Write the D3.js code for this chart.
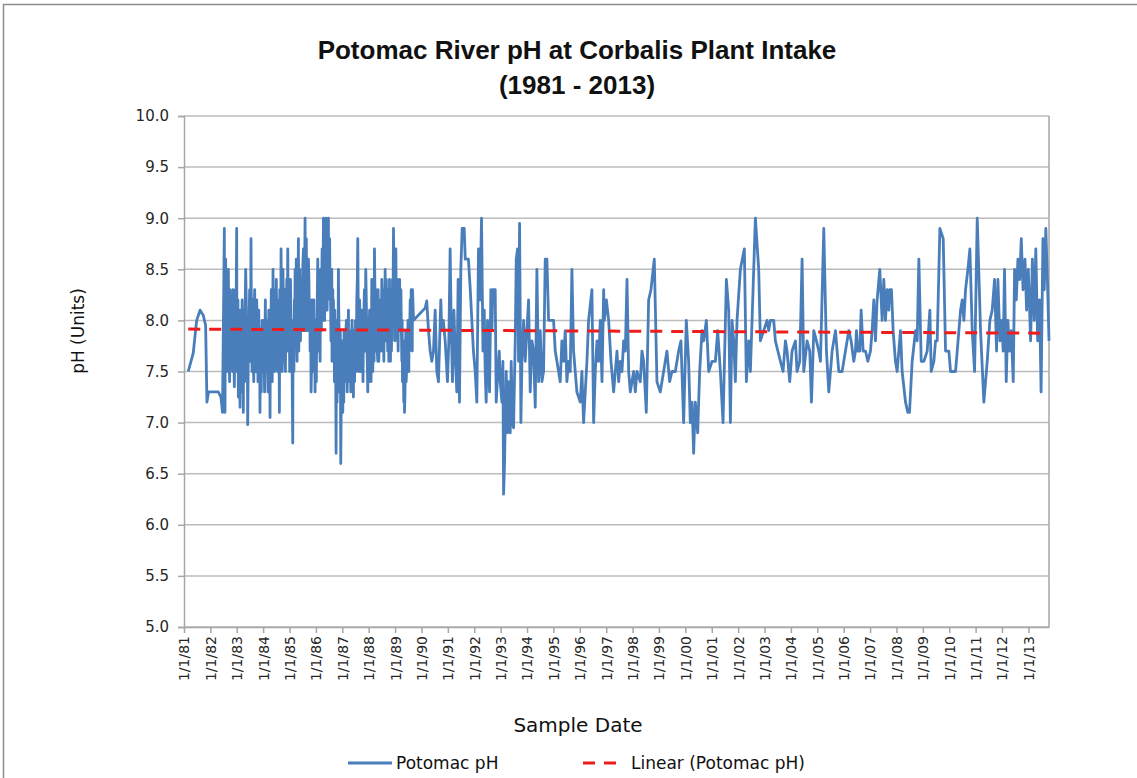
<!DOCTYPE html>
<html><head><meta charset="utf-8">
<script src="https://cdn.jsdelivr.net/npm/d3@7"></script>
<style>body{margin:0;background:#fff} svg{display:block}</style>
</head><body>
<svg id="chart" width="1137" height="778"></svg>
<script>
// ---------- DATA ----------
const titleLines = ["Potomac River pH at Corbalis Plant Intake", "(1981 - 2013)"];
const yAxisTitle = "pH (Units)";
const xAxisTitle = "Sample Date";
const seriesName = "Potomac pH";
const trendName = "Linear (Potomac pH)";
const yTicks = [5.0, 5.5, 6.0, 6.5, 7.0, 7.5, 8.0, 8.5, 9.0, 9.5, 10.0];
const xTickYears = d3.range(1981, 2014);           // 1/1/81 ... 1/1/13
const trendValues = [7.915, 7.875];                 // linear trend at first and last sample
// [decimal year, pH] – main samples
const potomacPH = [
[1981.16,7.50],[1981.35,7.68],[1981.48,8.00],[1981.61,8.10],[1981.73,8.05],[1981.82,7.95],[1981.87,7.20],[1981.93,7.30],
[1982.10,7.30],[1982.30,7.30],[1982.40,7.25],[1982.46,7.10],[1982.53,8.90],[1982.555,7.10],[1982.58,8.60],[1982.60,7.90],
[1982.618,8.40],[1982.65,7.80],[1982.681,8.50],[1982.71,7.70],[1982.745,8.30],[1982.775,7.60],[1982.808,8.20],[1982.84,7.50],
[1982.871,8.00],[1982.909,7.35],[1982.934,7.90],[1982.965,7.60],[1982.997,8.90],[1983.03,7.80],[1983.061,7.25],[1983.09,7.90],
[1983.124,7.15],[1983.155,7.80],[1983.187,7.50],[1983.22,7.90],[1983.25,7.10],[1983.28,7.70],[1983.314,8.00],[1983.339,8.50],
[1983.377,7.60],[1983.415,6.98],[1983.44,7.80],[1983.465,8.00],[1983.50,7.70],[1983.541,8.80],[1983.565,7.90],[1983.592,8.00],
[1983.63,7.60],[1983.66,8.10],[1983.693,7.75],[1983.72,7.90],[1983.756,8.20],[1983.79,7.70],[1983.819,7.90],[1983.85,7.50],
[1983.882,7.10],[1983.91,7.60],[1983.946,7.90],[1983.98,7.50],[1984.009,7.80],[1984.04,7.60],[1984.072,7.90],[1984.10,7.70],
[1984.135,8.00],[1984.17,7.50],[1984.198,7.80],[1984.23,7.60],[1984.262,7.05],[1984.29,7.70],[1984.325,7.60],[1984.36,7.90],
[1984.388,8.10],[1984.42,7.80],[1984.451,8.30],[1984.48,7.70],[1984.515,7.90],[1984.545,7.50],[1984.578,7.70],[1984.616,7.10],
[1984.645,7.90],[1984.679,8.70],[1984.704,8.00],[1984.735,7.80],[1984.767,8.20],[1984.80,7.70],[1984.831,7.60],[1984.86,8.10],
[1984.894,8.40],[1984.932,8.70],[1984.96,7.90],[1984.99,8.00],[1985.02,7.70],[1985.05,8.10],[1985.083,8.00],[1985.10,7.40],
[1985.121,6.80],[1985.15,7.60],[1985.185,8.20],[1985.21,8.50],[1985.24,7.90],[1985.273,7.80],[1985.30,8.30],[1985.336,8.80],
[1985.37,8.10],[1985.40,8.00],[1985.437,8.40],[1985.48,7.90],[1985.526,8.70],[1985.56,8.20],[1985.589,9.00],[1985.62,8.40],
[1985.652,8.30],[1985.68,7.90],[1985.716,8.60],[1985.753,8.00],[1985.78,7.70],[1985.817,7.30],[1985.84,7.80],[1985.867,7.90],
[1985.905,8.00],[1985.93,7.60],[1985.968,7.30],[1986.00,7.70],[1986.032,7.90],[1986.07,8.60],[1986.095,8.00],[1986.12,7.80],
[1986.158,7.60],[1986.19,8.00],[1986.221,8.40],[1986.25,8.20],[1986.284,9.00],[1986.31,8.50],[1986.348,8.60],[1986.38,9.00],
[1986.411,8.90],[1986.44,8.40],[1986.474,9.00],[1986.50,8.60],[1986.537,8.20],[1986.57,7.80],[1986.601,8.50],[1986.625,8.00],
[1986.651,7.90],[1986.68,7.60],[1986.702,7.40],[1986.73,7.80],[1986.765,6.70],[1986.79,7.50],[1986.815,7.80],[1986.853,8.50],
[1986.88,7.90],[1986.904,7.60],[1986.942,6.60],[1986.98,7.50],[1987.018,7.10],[1987.045,7.60],[1987.068,7.90],[1987.106,7.50],
[1987.14,7.90],[1987.169,7.70],[1987.20,7.50],[1987.233,8.10],[1987.26,7.70],[1987.283,7.40],[1987.31,7.90],[1987.334,7.60],
[1987.37,8.00],[1987.40,7.80],[1987.422,7.25],[1987.45,7.70],[1987.485,7.80],[1987.52,7.50],[1987.549,8.20],[1987.587,8.80],
[1987.61,7.90],[1987.637,7.80],[1987.675,8.00],[1987.71,7.70],[1987.738,7.50],[1987.77,7.80],[1987.802,7.90],[1987.84,8.30],
[1987.865,7.70],[1987.89,8.50],[1987.928,7.90],[1987.966,7.30],[1987.99,7.60],[1988.016,7.90],[1988.054,7.70],[1988.09,7.40],
[1988.118,8.40],[1988.14,7.90],[1988.168,7.80],[1988.219,8.70],[1988.245,8.20],[1988.269,7.90],[1988.307,8.10],[1988.345,7.60],
[1988.37,8.00],[1988.396,7.80],[1988.446,8.20],[1988.497,8.40],[1988.53,7.90],[1988.56,7.80],[1988.59,8.20],[1988.623,8.50],
[1988.65,7.80],[1988.686,8.00],[1988.72,7.70],[1988.75,8.30],[1988.775,7.80],[1988.80,7.90],[1988.825,7.60],[1988.851,7.90],
[1988.875,8.10],[1988.901,8.40],[1988.939,8.90],[1988.96,8.00],[1988.977,8.20],[1989.00,7.80],[1989.028,8.70],[1989.05,7.90],
[1989.066,8.00],[1989.104,7.90],[1989.13,8.30],[1989.154,8.20],[1989.192,7.90],[1989.22,8.30],[1989.256,7.60],[1989.28,7.40],
[1989.306,7.80],[1989.33,7.20],[1989.357,7.10],[1989.39,7.60],[1989.42,7.40],[1989.45,7.90],[1989.47,7.80],[1989.508,7.60],
[1989.53,7.85],[1989.559,8.00],[1989.585,7.80],[1989.609,8.30],[1989.64,7.90],[1989.66,8.30],[1989.70,8.00],[1989.95,8.07],
[1990.14,8.12],[1990.20,8.19],[1990.266,7.90],[1990.33,7.70],[1990.392,7.60],[1990.455,7.70],[1990.519,8.10],[1990.58,7.50],
[1990.645,7.40],[1990.733,8.20],[1990.77,7.90],[1990.83,8.00],[1990.898,7.80],[1990.986,7.40],[1991.037,7.80],[1991.087,8.70],
[1991.125,8.00],[1991.175,7.40],[1991.23,8.10],[1991.29,7.60],[1991.34,7.30],[1991.39,8.40],[1991.441,7.20],[1991.492,8.50],
[1991.543,8.90],[1991.62,8.90],[1991.66,8.60],[1991.78,8.60],[1991.85,8.30],[1991.91,8.00],[1991.97,7.70],[1992.036,7.50],
[1992.099,7.20],[1992.162,8.70],[1992.22,8.20],[1992.276,9.00],[1992.33,7.70],[1992.38,8.10],[1992.415,7.50],[1992.453,7.20],
[1992.503,8.00],[1992.541,7.60],[1992.579,7.30],[1992.63,8.30],[1992.668,7.90],[1992.705,8.30],[1992.794,8.30],[1992.832,7.20],
[1992.895,7.50],[1992.946,7.70],[1992.984,7.40],[1993.047,7.20],[1993.085,7.60],[1993.11,6.30],[1993.148,6.60],[1993.173,7.00],
[1993.21,7.50],[1993.26,6.90],[1993.30,7.40],[1993.34,7.00],[1993.363,6.90],[1993.40,7.60],[1993.45,7.00],[1993.489,6.95],
[1993.553,7.80],[1993.591,8.60],[1993.641,8.70],[1993.679,7.60],[1993.717,8.95],[1993.768,7.00],[1993.806,7.60],[1993.869,8.00],
[1993.932,7.60],[1993.995,7.90],[1994.058,8.20],[1994.121,7.30],[1994.185,7.80],[1994.248,7.70],[1994.311,7.15],[1994.374,8.50],
[1994.438,7.40],[1994.501,7.90],[1994.564,7.40],[1994.627,7.50],[1994.69,8.60],[1994.754,8.60],[1994.817,8.00],[1995.006,8.00],
[1995.07,7.70],[1995.133,7.60],[1995.196,7.50],[1995.259,7.40],[1995.322,7.80],[1995.386,7.60],[1995.449,7.90],[1995.512,7.40],
[1995.575,7.60],[1995.638,7.50],[1995.702,8.50],[1995.765,7.70],[1995.891,7.30],[1996.018,7.20],[1996.081,7.50],[1996.144,7.00],
[1996.271,7.60],[1996.334,8.00],[1996.46,8.30],[1996.524,7.00],[1996.587,7.50],[1996.65,7.80],[1996.713,7.60],[1996.776,8.00],
[1996.84,7.40],[1996.903,8.30],[1996.93,8.00],[1997.006,8.20],[1997.092,8.00],[1997.181,7.60],[1997.282,7.30],[1997.345,7.50],
[1997.408,7.70],[1997.472,7.40],[1997.535,7.60],[1997.598,7.50],[1997.661,7.80],[1997.724,7.70],[1997.788,8.40],[1997.851,7.50],
[1997.914,7.30],[1997.977,7.40],[1998.04,7.50],[1998.104,7.30],[1998.167,7.50],[1998.293,7.40],[1998.355,7.70],[1998.418,7.60],
[1998.52,7.10],[1998.608,8.20],[1998.697,8.30],[1998.823,8.60],[1998.924,7.40],[1998.987,7.35],[1999.05,7.30],[1999.177,7.50],
[1999.24,7.60],[1999.303,7.70],[1999.405,7.40],[1999.493,7.50],[1999.62,7.50],[1999.746,7.70],[1999.834,7.80],[1999.936,7.00],
[2000.037,8.00],[2000.125,7.60],[2000.188,7.00],[2000.252,7.20],[2000.315,6.70],[2000.378,7.20],[2000.467,6.90],[2000.542,7.50],
[2000.631,7.90],[2000.694,7.80],[2000.795,8.00],[2000.884,7.50],[2001.01,7.60],[2001.137,7.60],[2001.225,7.90],[2001.326,7.50],
[2001.427,7.00],[2001.554,8.40],[2001.642,8.10],[2001.706,7.00],[2001.769,8.00],[2001.832,7.80],[2001.895,7.40],[2001.958,8.00],
[2002.085,8.50],[2002.16,8.60],[2002.236,8.70],[2002.312,7.40],[2002.401,7.80],[2002.464,7.50],[2002.654,9.00],[2002.78,8.50],
[2002.843,7.80],[2002.97,7.90],[2003.096,8.00],[2003.16,7.90],[2003.223,8.00],[2003.349,8.00],[2003.412,7.80],[2003.602,7.60],
[2003.703,7.50],[2003.792,7.80],[2003.855,7.70],[2003.956,7.40],[2004.044,7.70],[2004.171,7.80],[2004.234,7.50],[2004.335,7.60],
[2004.424,8.60],[2004.487,7.50],[2004.613,7.80],[2004.714,7.70],[2004.778,7.20],[2004.866,7.90],[2004.967,7.80],[2005.056,7.70],
[2005.119,7.60],[2005.245,8.90],[2005.346,7.70],[2005.435,7.30],[2005.561,7.70],[2005.688,7.90],[2005.814,7.50],[2005.94,7.50],
[2006.067,7.70],[2006.193,7.90],[2006.282,7.80],[2006.383,7.60],[2006.446,7.70],[2006.484,7.90],[2006.535,7.70],[2006.611,7.70],
[2006.661,8.10],[2006.737,7.70],[2006.826,7.70],[2006.914,7.60],[2007.015,7.70],[2007.078,7.90],[2007.142,8.20],[2007.205,7.80],
[2007.268,8.20],[2007.369,8.50],[2007.458,8.00],[2007.521,8.40],[2007.584,8.00],[2007.647,8.30],[2007.71,8.10],[2007.748,8.30],
[2007.812,8.30],[2007.875,7.90],[2007.963,7.60],[2008.027,7.50],[2008.153,7.90],[2008.216,7.50],[2008.343,7.20],[2008.431,7.10],
[2008.494,7.10],[2008.595,7.60],[2008.722,7.90],[2008.785,7.80],[2008.848,8.60],[2008.937,7.60],[2009.038,7.60],[2009.164,7.70],
[2009.265,8.10],[2009.316,7.50],[2009.417,7.60],[2009.48,7.80],[2009.543,7.80],[2009.645,8.90],[2009.771,8.80],[2009.86,7.70],
[2009.986,7.70],[2010.049,7.50],[2010.239,7.50],[2010.302,7.70],[2010.429,8.10],[2010.492,8.20],[2010.555,8.00],[2010.618,8.30],
[2010.707,8.50],[2010.783,8.70],[2010.871,7.90],[2010.96,7.50],[2011.061,9.00],[2011.187,7.90],[2011.313,7.20],[2011.44,7.60],
[2011.541,8.00],[2011.63,8.10],[2011.718,8.40],[2011.794,7.70],[2011.845,8.40],[2011.921,7.80],[2011.984,8.00],[2012.046,7.70],
[2012.096,8.50],[2012.161,7.40],[2012.222,8.00],[2012.287,7.70],[2012.35,7.90],[2012.426,7.40],[2012.476,8.50],[2012.54,8.20],
[2012.602,8.60],[2012.667,8.40],[2012.73,8.80],[2012.795,8.30],[2012.87,8.60],[2012.93,8.10],[2012.995,8.50],[2013.083,7.80],
[2013.15,8.60],[2013.22,8.00],[2013.28,8.70],[2013.35,7.80],[2013.42,8.20],[2013.48,7.30],[2013.55,8.80],[2013.60,8.30],
[2013.66,8.90],[2013.72,8.40],[2013.78,7.80]
];
// [decimal year, pH] – additional (weekly) samples estimated in the dense 1982–1989 band
const potomacPHWeekly = [
[1982.54,7.6],[1982.57,8.2],[1982.63,7.5],[1982.695,8.1],[1982.73,7.4],[1982.79,8.0],[1982.855,8.3],[1982.89,7.7],[1982.95,8.3],
[1983.01,7.5],[1983.045,8.2],[1983.11,7.6],[1983.14,8.1],[1983.17,7.3],[1983.205,8.2],[1983.235,7.5],[1983.265,8.1],[1983.30,7.4],
[1983.36,8.2],[1983.40,7.9],[1983.43,7.4],[1983.49,8.3],[1983.52,7.6],[1983.55,8.3],[1983.58,7.5],[1983.61,8.2],[1983.645,7.4],
[1983.68,8.3],[1983.705,7.5],[1983.74,7.5],[1983.775,8.0],[1983.805,7.4],[1983.835,8.1],[1983.865,7.8],[1983.895,7.9],[1983.93,7.3],
[1983.965,8.0],[1983.995,7.6],[1984.025,8.0],[1984.055,7.3],[1984.085,8.2],[1984.12,7.5],[1984.15,7.9],[1984.185,7.3],[1984.215,8.1],
[1984.245,7.9],[1984.275,7.9],[1984.31,8.3],[1984.345,7.4],[1984.375,8.5],[1984.405,7.6],[1984.435,7.5],[1984.465,8.1],[1984.50,8.4],
[1984.53,7.6],[1984.56,8.0],[1984.595,8.2],[1984.63,8.3],[1984.66,7.6],[1984.69,8.3],[1984.72,7.5],[1984.75,8.5],[1984.785,7.9],
[1984.815,8.3],[1984.845,7.5],[1984.875,7.9],[1984.91,7.7],[1984.945,8.2],[1984.975,8.4],[1985.005,7.5],[1985.035,8.4],[1985.065,7.6],
[1985.135,8.0],[1985.165,7.5],[1985.195,7.9],[1985.225,8.1],[1985.255,8.6],[1985.285,7.6],[1985.315,8.0],[1985.35,7.7],[1985.385,8.5],
[1985.415,7.8],[1985.455,8.2],[1985.50,8.5],[1985.54,7.9],[1985.575,8.6],[1985.605,7.9],[1985.635,8.8],[1985.665,8.5],[1985.70,8.2],
[1985.735,8.4],[1985.765,8.2],[1985.80,8.0],[1985.83,7.5],[1985.855,8.2],[1985.885,7.5],[1985.92,8.2],[1985.95,7.9],[1985.985,8.0],
[1986.015,7.4],[1986.05,8.2],[1986.08,7.7],[1986.11,8.3],[1986.14,8.1],[1986.175,8.5],[1986.205,7.9],[1986.235,8.7],[1986.265,8.0],
[1986.295,8.8],[1986.33,8.0],[1986.365,8.3],[1986.395,8.6],[1986.425,8.1],[1986.455,8.7],[1986.485,8.3],[1986.52,8.8],[1986.55,8.4],
[1986.585,8.2],[1986.61,7.6],[1986.64,8.3],[1986.665,8.2],[1986.69,8.0],[1986.715,8.1],[1986.75,7.5],[1986.78,8.0],[1986.80,7.2],
[1986.835,7.6],[1986.865,8.1],[1986.89,7.3],[1986.925,7.9],[1986.96,7.2],[1987.00,7.8],[1987.03,7.4],[1987.055,7.2],[1987.09,7.7],
[1987.12,7.4],[1987.155,8.0],[1987.185,7.3],[1987.215,7.8],[1987.245,7.4],[1987.27,7.9],[1987.295,7.7],[1987.32,7.3],[1987.35,7.8],
[1987.385,7.5],[1987.41,7.7],[1987.435,7.9],[1987.465,7.4],[1987.50,8.0],[1987.535,7.7],[1987.57,8.4],[1987.60,8.3],[1987.625,7.5],
[1987.655,8.2],[1987.69,7.5],[1987.725,8.1],[1987.755,7.8],[1987.785,7.4],[1987.82,8.1],[1987.852,8.0],[1987.878,8.1],[1987.91,8.2],
[1987.947,7.6],[1987.98,7.9],[1988.003,7.4],[1988.035,8.1],[1988.07,8.0],[1988.105,7.8],[1988.13,8.1],[1988.155,7.5],[1988.19,8.1],
[1988.205,7.6],[1988.232,8.4],[1988.257,7.7],[1988.288,8.3],[1988.325,7.7],[1988.358,8.3],[1988.383,7.6],[1988.42,8.1],[1988.47,7.7],
[1988.515,8.2],[1988.545,8.3],[1988.575,7.6],[1988.605,7.9],[1988.635,8.1],[1988.668,8.4],[1988.70,8.3],[1988.735,8.1],[1988.762,7.6],
[1988.788,8.4],[1988.812,8.1],[1988.838,8.3],[1988.862,7.7],[1988.888,7.8],[1988.92,8.1],[1988.95,8.6],[1988.99,8.5],[1989.014,8.1],
[1989.04,8.3],[1989.085,8.4],[1989.115,7.7],[1989.142,7.9],[1989.172,8.4],[1989.205,8.0],[1989.238,7.9],[1989.268,8.0],[1989.293,7.5],
[1989.318,7.4],[1989.345,7.6],[1989.375,7.3],[1989.405,7.9],[1989.435,7.5],[1989.49,8.0],[1989.52,7.5],[1989.545,7.7],[1989.572,8.2],
[1989.597,7.9],[1989.625,8.1],[1989.65,7.7]
];

// ---------- LAYOUT ----------
const W = 1137, H = 778;
const plot = {left: 184, right: 1049, top: 116, bottom: 627};
const blue = "#4a7ebb", red = "#ee1c1c", grid = "#bcbcbc", axisCol = "#a6a6a6";

function toDate(y) {
  const yr = Math.floor(y);
  const a = Date.UTC(yr, 0, 1), b = Date.UTC(yr + 1, 0, 1);
  return new Date(a + (y - yr) * (b - a));
}
const pts = potomacPH.concat(potomacPHWeekly)
  .map(d => ({date: toDate(d[0]), v: d[1]}))
  .sort((a, b) => a.date - b.date);
const firstDate = pts[0].date, lastDate = pts[pts.length - 1].date;

const x = d3.scaleUtc().domain([new Date(Date.UTC(xTickYears[0], 0, 1)), lastDate]).range([plot.left, plot.right]);
const y = d3.scaleLinear().domain([yTicks[0], yTicks[yTicks.length - 1]]).range([plot.bottom, plot.top]);

const svg = d3.select("#chart");
svg.append("rect").attr("x", 0).attr("y", 0).attr("width", W).attr("height", H).attr("fill", "#fff");
// outer chart border (top/left visible)
svg.append("rect").attr("x", 3.5).attr("y", 4.5).attr("width", W + 10).attr("height", H + 10)
  .attr("fill", "none").attr("stroke", "#8c8c8c").attr("stroke-width", 1.5);

// gridlines
svg.append("g").selectAll("line").data(yTicks).join("line")
  .attr("x1", plot.left).attr("x2", plot.right)
  .attr("y1", d => y(d)).attr("y2", d => y(d))
  .attr("stroke", grid).attr("stroke-width", 1.5);
// plot border right
svg.append("line").attr("x1", plot.right).attr("x2", plot.right).attr("y1", plot.top).attr("y2", plot.bottom)
  .attr("stroke", axisCol).attr("stroke-width", 1.5);

// y axis
const yAxis = d3.axisLeft(y).tickValues(yTicks).tickFormat(d3.format(".1f")).tickSize(6).tickPadding(9);
const gy = svg.append("g").attr("transform", `translate(${plot.left},0)`).call(yAxis);
gy.select(".domain").attr("stroke", axisCol).attr("stroke-width", 1.5);
gy.selectAll(".tick line").attr("stroke", axisCol).attr("stroke-width", 1.5);
gy.selectAll(".tick text").attr("font-family", "DejaVu Sans, Verdana, sans-serif").attr("font-size", 15).attr("fill", "#262626");

// x axis
const xTickDates = xTickYears.map(yr => new Date(Date.UTC(yr, 0, 1)));
const xAxis = d3.axisBottom(x).tickValues(xTickDates)
  .tickFormat(d => "1/1/" + String(d.getUTCFullYear()).slice(2)).tickSize(6).tickSizeOuter(0);
const gx = svg.append("g").attr("transform", `translate(0,${plot.bottom})`).call(xAxis);
gx.select(".domain").attr("stroke", axisCol).attr("stroke-width", 1.5);
gx.selectAll(".tick line").attr("stroke", axisCol).attr("stroke-width", 1.5);
gx.selectAll(".tick text")
  .attr("font-family", "DejaVu Sans, Verdana, sans-serif").attr("font-size", 14).attr("fill", "#262626")
  .attr("text-anchor", "end").attr("dy", "0.35em")
  .attr("transform", "translate(0,9) rotate(-90)").attr("x", 0).attr("y", 0);

// series line
const line = d3.line().x(d => x(d.date)).y(d => y(d.v));
svg.append("path").datum(pts).attr("d", line)
  .attr("fill", "none").attr("stroke", blue).attr("stroke-width", 2.8).attr("stroke-linejoin", "round");

// linear trend
const trendPts = [{date: firstDate, v: trendValues[0]}, {date: lastDate, v: trendValues[1]}];
svg.append("path").datum(trendPts).attr("d", line)
  .attr("fill", "none").attr("stroke", red).attr("stroke-width", 3).attr("stroke-dasharray", "12,9");

// titles
const title = svg.append("text").attr("text-anchor", "middle")
  .attr("font-family", "Liberation Sans, Arial, sans-serif").attr("font-weight", "bold")
  .attr("font-size", 26).attr("fill", "#111");
titleLines.forEach((t, i) => title.append("tspan").attr("x", 577).attr("y", 59 + i * 35).text(t));

svg.append("text").attr("transform", "translate(84,331) rotate(-90)").attr("text-anchor", "middle")
  .attr("font-family", "DejaVu Sans, Verdana, sans-serif").attr("font-size", 17).attr("fill", "#111")
  .text(yAxisTitle);

svg.append("text").attr("x", 578).attr("y", 732).attr("text-anchor", "middle")
  .attr("font-family", "DejaVu Sans, Verdana, sans-serif").attr("font-size", 20).attr("fill", "#111")
  .text(xAxisTitle);

// legend
const lg = svg.append("g").attr("font-family", "DejaVu Sans, Verdana, sans-serif").attr("font-size", 17).attr("fill", "#111");
lg.append("line").attr("x1", 348).attr("x2", 392).attr("y1", 763).attr("y2", 763).attr("stroke", blue).attr("stroke-width", 2.8);
lg.append("text").attr("x", 396).attr("y", 769).text(seriesName);
lg.append("line").attr("x1", 583).attr("x2", 621).attr("y1", 763).attr("y2", 763).attr("stroke", red).attr("stroke-width", 3).attr("stroke-dasharray", "12,9");
lg.append("text").attr("x", 631).attr("y", 769).text(trendName);
</script>
</body></html>
